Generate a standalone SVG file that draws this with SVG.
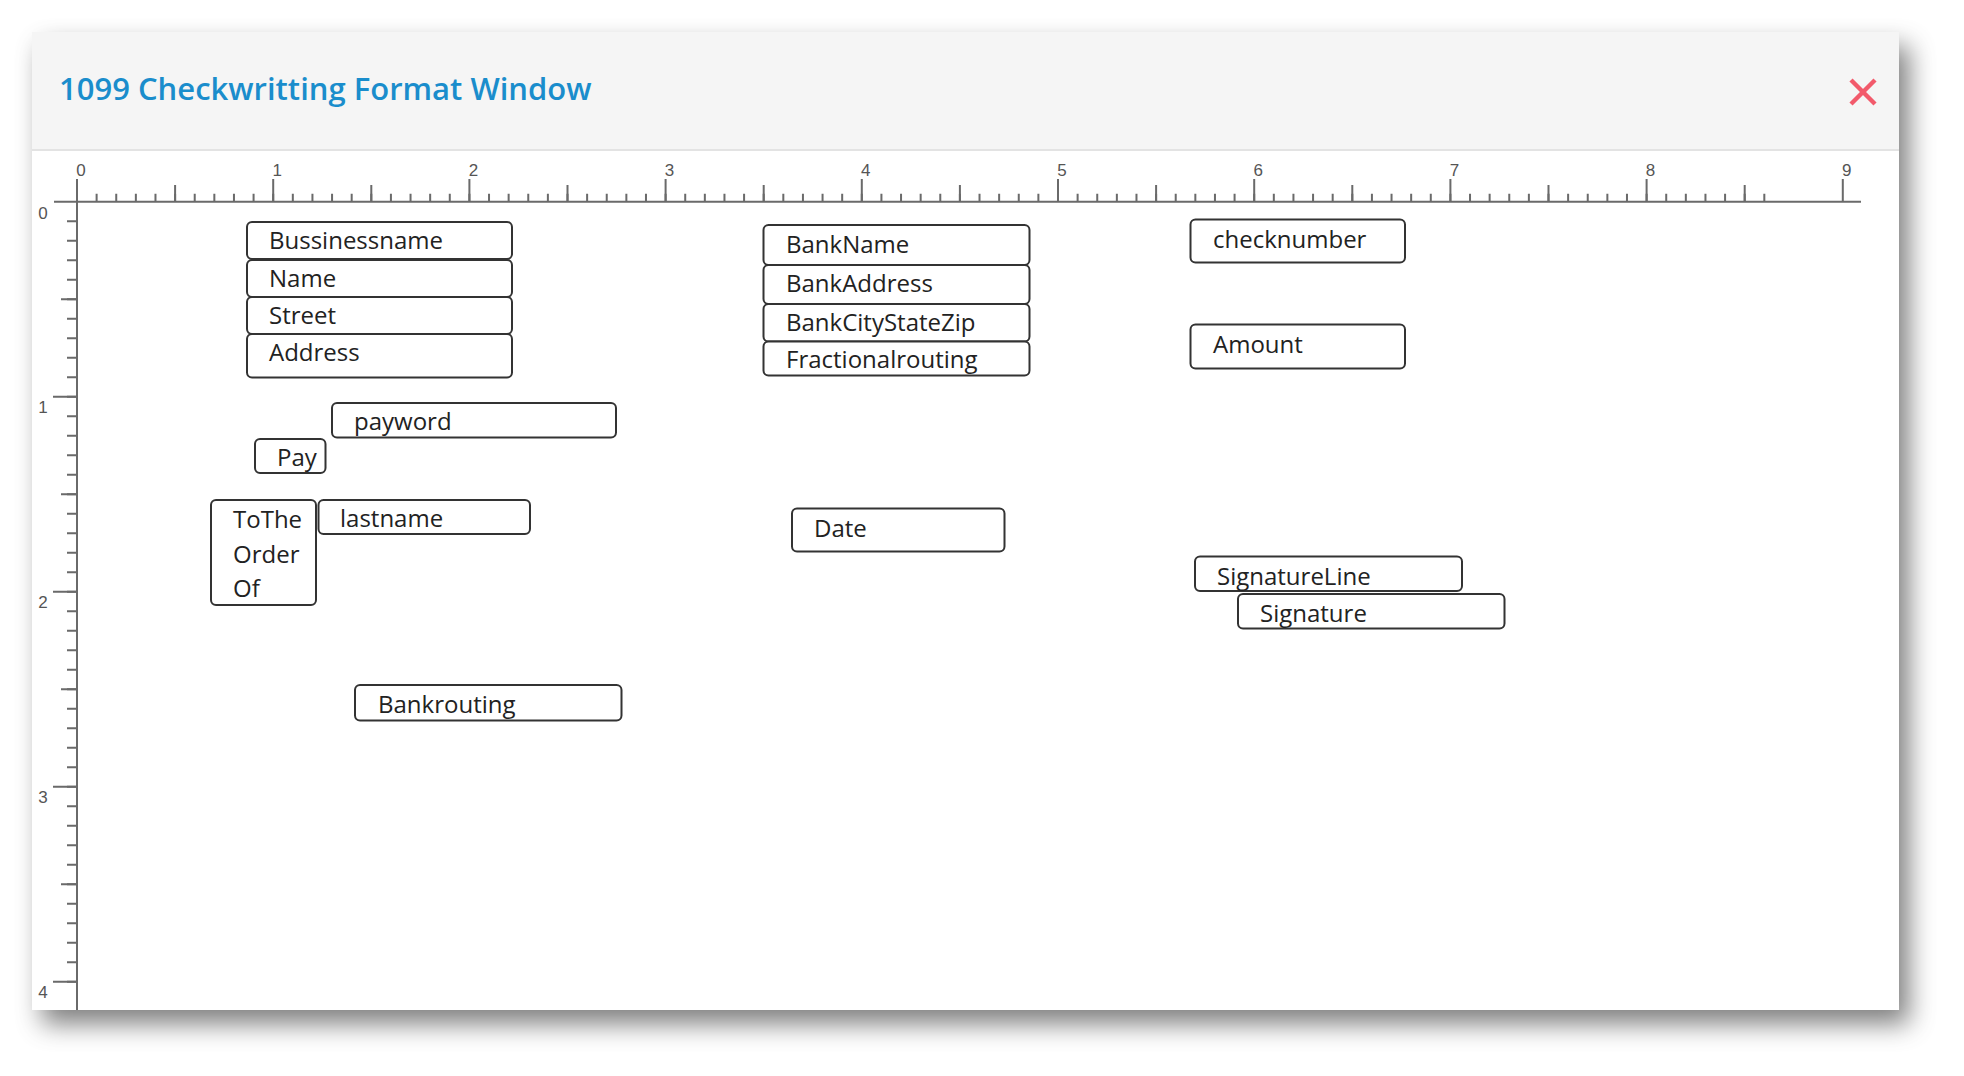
<svg xmlns="http://www.w3.org/2000/svg" width="1964" height="1076" viewBox="0 0 1964 1076">
<defs>
<filter id="shadow" x="-5%" y="-5%" width="112%" height="115%">
<feGaussianBlur in="SourceAlpha" stdDeviation="13"/>
<feOffset dx="10" dy="14" result="b"/>
<feFlood flood-color="#000" flood-opacity="0.5"/>
<feComposite in2="b" operator="in"/>
<feMerge><feMergeNode/><feMergeNode in="SourceGraphic"/></feMerge>
</filter>
</defs>
<style>
.box{fill:#fff;stroke:#333;stroke-width:2;}
.lbl{font-family:"Open Sans","Liberation Sans",sans-serif;font-size:24px;fill:#222;}
.tick{stroke:#6a6a6a;stroke-width:2;fill:none;}
.num{font-family:"Liberation Sans",Arial,sans-serif;font-size:17px;fill:#555;}
</style>
<rect width="1964" height="1076" fill="#fff"/>
<g id="window">
<rect x="32" y="32" width="1867" height="978" fill="#fff" filter="url(#shadow)"/>
<rect x="32" y="32" width="1867" height="118" fill="#f5f5f5"/>
<line x1="32" y1="150" x2="1899" y2="150" stroke="#e3e3e3" stroke-width="2"/>
<text x="59" y="100" font-family="'Open Sans','Liberation Sans',sans-serif" font-size="31" font-weight="600" fill="#1a8dcc">1099 Checkwritting Format Window</text>
<g id="close" stroke="#f25a6b" stroke-width="4.5">
<line x1="1851" y1="80" x2="1875" y2="104"/>
<line x1="1875" y1="80" x2="1851" y2="104"/>
</g>
</g>
<g id="ruler">
<line class="tick" x1="54" y1="201.7" x2="1861" y2="201.7"/>
<line class="tick" x1="77" y1="201.7" x2="77" y2="1010"/>
<path class="tick" d="M77 193.7v8m19.62-8v8m19.62-8v8m19.62-8v8m19.62-8v8m19.62-8v8m19.62-8v8m19.62-8v8m19.62-8v8m19.62-8v8m19.62-8v8m19.62-8v8m19.62-8v8m19.62-8v8m19.62-8v8m19.62-8v8m19.62-8v8m19.62-8v8m19.62-8v8m19.62-8v8m19.62-8v8m19.62-8v8m19.62-8v8m19.62-8v8m19.62-8v8m19.62-8v8m19.62-8v8m19.62-8v8m19.62-8v8m19.62-8v8m19.62-8v8m19.62-8v8m19.62-8v8m19.62-8v8m19.62-8v8m19.62-8v8m19.62-8v8m19.62-8v8m19.62-8v8m19.62-8v8m19.62-8v8m19.62-8v8m19.62-8v8m19.62-8v8m19.62-8v8m19.62-8v8m19.62-8v8m19.62-8v8m19.62-8v8m19.62-8v8m19.62-8v8m19.62-8v8m19.62-8v8m19.62-8v8m19.62-8v8m19.62-8v8m19.62-8v8m19.62-8v8m19.62-8v8m19.62-8v8m19.62-8v8m19.62-8v8m19.62-8v8m19.62-8v8m19.62-8v8m19.62-8v8m19.62-8v8m19.62-8v8m19.62-8v8m19.62-8v8m19.62-8v8m19.62-8v8m19.62-8v8m19.62-8v8m19.62-8v8m19.62-8v8m19.62-8v8m19.62-8v8m19.62-8v8m19.62-8v8m19.62-8v8m19.62-8v8m19.62-8v8m19.62-8v8m19.62-8v8m19.62-8v8m19.62-8v8"/>
<path class="tick" d="M175.1 185v16.7m196.2-16.7v16.7m196.2-16.7v16.7m196.2-16.7v16.7m196.2-16.7v16.7m196.2-16.7v16.7m196.2-16.7v16.7m196.2-16.7v16.7m196.2-16.7v16.7"/>
<path class="tick" d="M77 179v22.7m196.2-22.7v22.7m196.2-22.7v22.7m196.2-22.7v22.7m196.2-22.7v22.7m196.2-22.7v22.7m196.2-22.7v22.7m196.2-22.7v22.7m196.2-22.7v22.7m196.2-22.7v22.7"/>
<path class="tick" d="M67 221.2h10m-10 19.5h10m-10 19.5h10m-10 19.5h10m-10 19.5h10m-10 19.5h10m-10 19.5h10m-10 19.5h10m-10 19.5h10m-10 19.5h10m-10 19.5h10m-10 19.5h10m-10 19.5h10m-10 19.5h10m-10 19.5h10m-10 19.5h10m-10 19.5h10m-10 19.5h10m-10 19.5h10m-10 19.5h10m-10 19.5h10m-10 19.5h10m-10 19.5h10m-10 19.5h10m-10 19.5h10m-10 19.5h10m-10 19.5h10m-10 19.5h10m-10 19.5h10m-10 19.5h10m-10 19.5h10m-10 19.5h10m-10 19.5h10m-10 19.5h10m-10 19.5h10m-10 19.5h10m-10 19.5h10m-10 19.5h10m-10 19.5h10m-10 19.5h10"/>
<path class="tick" d="M61 299.2h16m-16 195h16m-16 195h16m-16 195h16"/>
<path class="tick" d="M53 396.7h24m-24 195h24m-24 195h24m-24 195h24"/>
<g class="num" text-anchor="middle">
<text x="81" y="176">0</text>
<text x="277.2" y="176">1</text>
<text x="473.4" y="176">2</text>
<text x="669.6" y="176">3</text>
<text x="865.8" y="176">4</text>
<text x="1062" y="176">5</text>
<text x="1258.2" y="176">6</text>
<text x="1454.4" y="176">7</text>
<text x="1650.6" y="176">8</text>
<text x="1846.8" y="176">9</text>
<text x="43" y="219">0</text>
<text x="43" y="413">1</text>
<text x="43" y="608">2</text>
<text x="43" y="803">3</text>
<text x="43" y="998">4</text>
</g>
</g>
<g id="connectors"/>
<g id="n-bussinessname"><rect class="box" x="247" y="222" width="265" height="37" rx="5"/><text class="lbl" x="269" y="249">Bussinessname</text></g>
<g id="n-name"><rect class="box" x="247" y="260" width="265" height="37" rx="5"/><text class="lbl" x="269" y="287">Name</text></g>
<g id="n-street"><rect class="box" x="247" y="297" width="265" height="37" rx="5"/><text class="lbl" x="269" y="324">Street</text></g>
<g id="n-address"><rect class="box" x="247" y="334" width="265" height="43.5" rx="5"/><text class="lbl" x="269" y="361">Address</text></g>
<g id="n-payword"><rect class="box" x="332" y="403" width="284" height="34.5" rx="5"/><text class="lbl" x="354" y="430">payword</text></g>
<g id="n-pay"><rect class="box" x="255" y="439" width="70.5" height="34" rx="5"/><text class="lbl" x="277" y="466">Pay</text></g>
<g id="n-totheorderof"><rect class="box" x="211" y="500" width="105" height="105" rx="5"/><text class="lbl" x="233" y="527.5">ToThe</text><text class="lbl" x="233" y="563">Order</text><text class="lbl" x="233" y="597">Of</text></g>
<g id="n-lastname"><rect class="box" x="318.5" y="500" width="211.5" height="34" rx="5"/><text class="lbl" x="340" y="527">lastname</text></g>
<g id="n-bankrouting"><rect class="box" x="355" y="685" width="266.5" height="35.5" rx="5"/><text class="lbl" x="378" y="712.5">Bankrouting</text></g>
<g id="n-bankname"><rect class="box" x="763.5" y="225" width="266" height="40" rx="5"/><text class="lbl" x="786" y="252.5">BankName</text></g>
<g id="n-bankaddress"><rect class="box" x="763.5" y="265" width="266" height="39" rx="5"/><text class="lbl" x="786" y="291.5">BankAddress</text></g>
<g id="n-bankcitystatezip"><rect class="box" x="763.5" y="304" width="266" height="37.5" rx="5"/><text class="lbl" x="786" y="330.5">BankCityStateZip</text></g>
<g id="n-fractionalrouting"><rect class="box" x="763.5" y="341.5" width="266" height="34" rx="5"/><text class="lbl" x="786" y="368">Fractionalrouting</text></g>
<g id="n-date"><rect class="box" x="792" y="508.5" width="212.5" height="43" rx="5"/><text class="lbl" x="814" y="536.5">Date</text></g>
<g id="n-checknumber"><rect class="box" x="1190.5" y="219.5" width="214.5" height="43" rx="5"/><text class="lbl" x="1213" y="248">checknumber</text></g>
<g id="n-amount"><rect class="box" x="1190.5" y="324.5" width="214.5" height="44" rx="5"/><text class="lbl" x="1213" y="352.5">Amount</text></g>
<g id="n-signatureline"><rect class="box" x="1195" y="556.5" width="267" height="34.5" rx="5"/><text class="lbl" x="1217" y="585">SignatureLine</text></g>
<g id="n-signature"><rect class="box" x="1238" y="594" width="266.5" height="34.5" rx="5"/><text class="lbl" x="1260" y="621.5">Signature</text></g>
</svg>
